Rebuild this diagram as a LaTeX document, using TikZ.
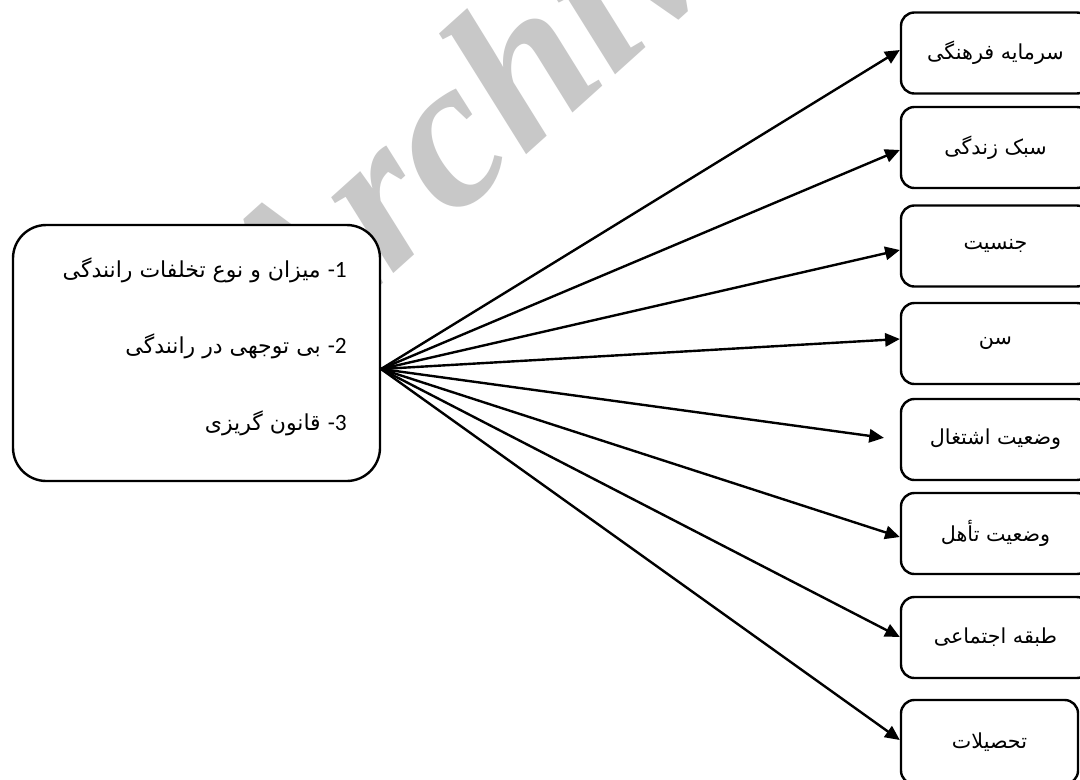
\documentclass[tikz,border=0pt]{standalone}
\usepackage{fontspec}
\setmainfont{Carlito}
\newfontfamily\fa[Script=Arabic]{DejaVu Sans}
\newfontfamily\wmfont{Liberation Serif}
\TeXXeTstate=1
\usetikzlibrary{arrows.meta,calc}
\definecolor{wmgray}{RGB}{200,200,200}
\begin{document}
\begin{tikzpicture}[x=0.75pt,y=-0.75pt,
  box/.style={draw, line width=1.8pt, rounded corners=10pt, fill=white,
    minimum width=141.75pt, minimum height=60.75pt, inner sep=0pt,
    font=\fa\fontsize{15.5}{18}\selectfont},
  bigbox/.style={draw, line width=1.8pt, rounded corners=25pt, fill=white,
    minimum width=275.25pt, minimum height=192pt, inner sep=0pt},
  item/.style={anchor=base east, inner sep=0pt, font=\fontsize{17.5}{20}\selectfont},
  arr/.style={line width=1.8pt, -{Triangle[length=11pt,width=10pt]}},
  wm/.style={text=wmgray, font=\wmfont\bfseries\itshape\fontsize{160}{160}\selectfont}]
\useasboundingbox (0,0) rectangle (1080,779);
\clip (0,0) rectangle (1080,779);
\fill[white] (0,0) rectangle (1080,779);
% watermark
\node[wm, rotate=42, anchor=base west, inner sep=0pt] (w) at (285,372) {Archive};
% left box
\node[bigbox] (L) at (196.5,353) {};
\node[item] (t1) at (347,277) {{\fa\fontsize{16.5}{20}\selectfont\beginR میزان و نوع تخلفات رانندگی\endR}\hspace{0.3em}-1};
\node[item] (t2) at (347,353) {{\fa\fontsize{16.5}{20}\selectfont\beginR بی توجهی در رانندگی\endR}\hspace{0.3em}-2};
\node[item] (t3) at (347,430) {{\fa\fontsize{16.5}{20}\selectfont\beginR قانون گریزی\endR}\hspace{0.3em}-3};
\coordinate (o) at (381,369);
% right boxes
\node[box] (b1) at (995.5,53) {\beginR سرمایه فرهنگی\endR};
\node[box] (b2) at (995.5,147.5) {\beginR سبک زندگی\endR};
\node[box] (b3) at (995.5,246) {\beginR جنسیت\endR};
\node[box] (b4) at (995.5,343.5) {\beginR سن\endR};
\node[box] (b5) at (995.5,439.5) {\beginR وضعیت اشتغال\endR};
\node[box] (b6) at (995.5,533.5) {\beginR وضعیت تأهل\endR};
\node[box] (b7) at (995.5,637.5) {\beginR طبقه اجتماعی\endR};
\node[box, minimum width=132.75pt, minimum height=63pt] (b8) at (989.5,742) {\beginR تحصیلات\endR};
% arrows
\draw[arr] (o) -- ($(b1.west)+(0,-3)$);
\draw[arr] (o) -- ($(b2.west)+(0,2.5)$);
\draw[arr] (o) -- ($(b3.west)+(0,4)$);
\draw[arr] (o) -- ($(b4.west)+(0,-4.5)$);
\draw[arr, shorten >=12pt] (o) -- ($(b5.west)+(0,0.5)$);
\draw[arr] (o) -- ($(b6.west)+(0,3.5)$);
\draw[arr] (o) -- ($(b7.west)+(0,-0.5)$);
\draw[arr] (o) -- ($(b8.west)+(0,-2)$);
\end{tikzpicture}
\end{document}
